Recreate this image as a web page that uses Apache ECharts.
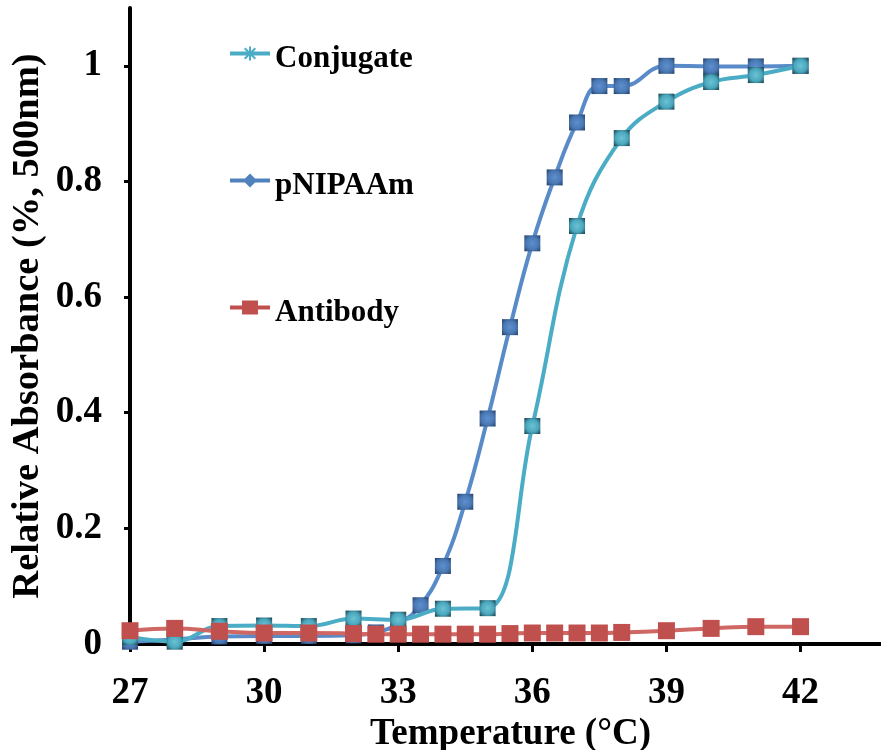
<!DOCTYPE html>
<html>
<head>
<meta charset="utf-8">
<title>Relative Absorbance vs Temperature</title>
<script src="https://cdn.jsdelivr.net/npm/echarts@6/dist/echarts.min.js"></script>
<style>
  html, body { margin: 0; padding: 0; background: #ffffff; }
  #chart { width: 881px; height: 750px; }
</style>
</head>
<body>
<div id="chart"></div>
<script>
// Temperatures (°C) and relative absorbance at 500 nm for each sample
const conjugateTemps = [27, 28, 29, 30, 31, 32, 33, 34, 35, 36, 37, 38, 39, 40, 41, 42];
const conjugateValues = [0.012, 0.004, 0.031, 0.032, 0.031, 0.044, 0.042, 0.061, 0.062, 0.377, 0.723, 0.875, 0.938, 0.972, 0.984, 1.0];

const pnipaamTemps = [27, 28, 29, 30, 31, 32, 32.5, 33, 33.5, 34, 34.5, 35, 35.5, 36, 36.5, 37, 37.5, 38, 39, 40, 41, 42];
const pnipaamValues = [0.004, 0.008, 0.013, 0.014, 0.014, 0.015, 0.02, 0.035, 0.067, 0.135, 0.246, 0.39, 0.548, 0.693, 0.807, 0.902, 0.965, 0.965, 1.0, 0.999, 0.999, 1.0];

const antibodyTemps = [27, 28, 29, 30, 31, 32, 32.5, 33, 33.5, 34, 34.5, 35, 35.5, 36, 36.5, 37, 37.5, 38, 39, 40, 41, 42];
const antibodyValues = [0.023, 0.027, 0.022, 0.019, 0.019, 0.018, 0.017, 0.017, 0.017, 0.017, 0.017, 0.017, 0.018, 0.019, 0.019, 0.019, 0.019, 0.020, 0.023, 0.027, 0.030, 0.030];

// Axis tick positions
const xTicks = [27, 30, 33, 36, 39, 42];
const yTicks = [0, 0.2, 0.4, 0.6, 0.8, 1];

const seriesNames = ['Conjugate', 'pNIPAAm', 'Antibody'];

function pairs(xs, ys) {
  return xs.map((x, i) => [x, ys[i]]);
}

const FONT = "'Times New Roman', 'Liberation Serif', serif";

// Legend glyphs: a short line with the series marker on it.
// The trailing zero-length segment at y=24 only widens the glyph's box,
// which lifts the visible line a little above the label's centre.
const ICON_ASTERISK = 'path://M0,5 H40 V9 H0 Z M19,0 H21 V14 H19 Z M14,2.4 L15.4,1 L26,11.6 L24.6,13 Z M24.6,1 L26,2.4 L15.4,13 L14,11.6 Z M20,24 L20,24';
const ICON_DIAMOND = 'path://M0,5 H40 V9 H0 Z M13,7 L20,0 L27,7 L20,14 Z M20,24 L20,24';
const ICON_SQUARE = 'path://M0,5 H40 V9 H0 Z M12,0 H28 V14 H12 Z M20,24 L20,24';

function radial(inner, mid, outer) {
  return {
    type: 'radial', x: 0.5, y: 0.5, r: 0.72,
    colorStops: [
      { offset: 0, color: inner },
      { offset: 0.55, color: mid },
      { offset: 1, color: outer }
    ]
  };
}

function legendAt(name, icon, color, top) {
  return {
    data: [{ name: name, icon: icon, itemStyle: { color: color } }],
    left: 230,
    top: top,
    orient: 'vertical',
    padding: 0,
    itemWidth: 40,
    itemHeight: 24,
    selectedMode: false,
    textStyle: { fontFamily: FONT, fontWeight: 'bold', fontSize: 31, color: '#000' }
  };
}

const chart = echarts.init(document.getElementById('chart'), null, { renderer: 'canvas' });

chart.setOption({
  backgroundColor: '#ffffff',
  animation: false,
  grid: { left: 130, right: 0, top: 8, bottom: 106, containLabel: false, outerBoundsMode: 'none' },
  legend: [
    legendAt(seriesNames[0], ICON_ASTERISK, '#4BACC6', 43),
    legendAt(seriesNames[1], ICON_DIAMOND, '#4F81BD', 170),
    legendAt(seriesNames[2], ICON_SQUARE, '#C0504D', 297)
  ],
  xAxis: {
    type: 'value',
    min: 27,
    max: 43.8,
    name: 'Temperature (°C)',
    nameLocation: 'middle',
    nameGap: 72,
    nameMoveOverlap: false,
    nameTextStyle: {
      fontFamily: FONT, fontWeight: 'bold', fontSize: 37, color: '#000',
      padding: [0, 0, 0, 10]
    },
    splitLine: { show: false },
    axisLine: { show: true, lineStyle: { color: '#000', width: 4 } },
    axisTick: { show: true, length: 8, lineStyle: { color: '#000', width: 3 }, customValues: xTicks },
    axisLabel: {
      customValues: xTicks,
      margin: 31,
      fontFamily: FONT, fontWeight: 'bold', fontSize: 37, color: '#000'
    }
  },
  yAxis: {
    type: 'value',
    min: 0,
    max: 1.1,
    name: 'Relative Absorbance (%, 500nm)',
    nameLocation: 'middle',
    nameGap: 82,
    nameMoveOverlap: false,
    nameTextStyle: { fontFamily: FONT, fontWeight: 'bold', fontSize: 38.5, color: '#000' },
    splitLine: { show: false },
    axisLine: { show: true, lineStyle: { color: '#000', width: 4 } },
    axisTick: { show: true, length: 6, lineStyle: { color: '#000', width: 3 }, customValues: yTicks },
    axisLabel: {
      customValues: yTicks,
      margin: 28,
      fontFamily: FONT, fontWeight: 'bold', fontSize: 37, color: '#000'
    }
  },
  series: [
    {
      name: seriesNames[1],
      type: 'line',
      smooth: 0.45,
      data: pairs(pnipaamTemps, pnipaamValues),
      symbol: 'rect',
      symbolSize: 16,
      lineStyle: { color: '#5A8BC9', width: 4 },
      itemStyle: { color: radial('#5d8fcf', '#4a78b3', '#1f3a63') },
      z: 2
    },
    {
      name: seriesNames[0],
      type: 'line',
      smooth: 0.4,
      data: pairs(conjugateTemps, conjugateValues),
      symbol: 'rect',
      symbolSize: 16,
      lineStyle: { color: '#4BACC6', width: 4 },
      itemStyle: { color: radial('#6ac3d3', '#4aa6bd', '#10343d') },
      z: 3
    },
    {
      name: seriesNames[2],
      type: 'line',
      smooth: 0.45,
      data: pairs(antibodyTemps, antibodyValues),
      symbol: 'rect',
      symbolSize: 17,
      lineStyle: { color: '#CF6764', width: 4 },
      itemStyle: { color: '#C0504D' },
      z: 4
    }
  ]
});
</script>
</body>
</html>
